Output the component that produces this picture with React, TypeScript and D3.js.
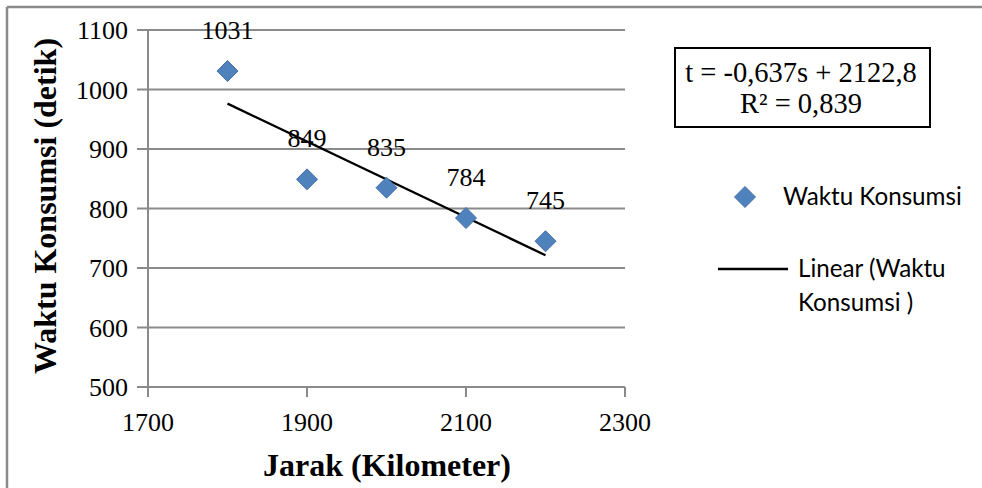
import React from "react";
import * as d3 from "d3";

const distances = [1800, 1900, 2000, 2100, 2200];
const times = [1031, 849, 835, 784, 745];
const xTicks = [1700, 1900, 2100, 2300];
const yTicks = [500, 600, 700, 800, 900, 1000, 1100];
const trendSlope = -0.637;
const trendIntercept = 2122.8;
const equationLines = ["t = -0,637s + 2122,8", "R² = 0,839"];
const seriesName = "Waktu Konsumsi";
const trendLegendLines = ["Linear (Waktu", "Konsumsi )"];
const xTitle = "Jarak (Kilometer)";
const yTitle = "Waktu Konsumsi (detik)";

const W = 982;
const H = 488;
const SERIF = "'Liberation Serif', 'Times New Roman', serif";
const SANS = "Lato, 'Noto Sans', sans-serif";
const GRID = "#8a8a8a";
const BLUE = "#4F81BD";

export default function App() {
  const x = d3.scaleLinear().domain([1700, 2300]).range([148, 625]);
  const y = d3.scaleLinear().domain([500, 1100]).range([387, 30]);
  const diamondPath = (cx: number, cy: number) => {
    const r = 10.5;
    return `M${cx},${cy - r}L${cx + r},${cy}L${cx},${cy + r}L${cx - r},${cy}Z`;
  };
  const trendX = [d3.min(distances)!, d3.max(distances)!];
  const line = d3
    .line<number>()
    .x((d) => x(d))
    .y((d) => y(trendSlope * d + trendIntercept));

  return (
    <svg
      width={W}
      height={H}
      style={{ position: "absolute", left: 0, top: 0, background: "#fff" }}
    >
      {/* outer border (top and left) */}
      <line x1={7} y1={7} x2={W} y2={7} stroke={GRID} strokeWidth={2.5} />
      <line x1={7} y1={7} x2={7} y2={H} stroke={GRID} strokeWidth={2.5} />

      {/* horizontal gridlines with tick extensions */}
      {yTicks.map((t) => (
        <g key={"y" + t}>
          <line
            x1={x(1700) - 11}
            x2={x(2300)}
            y1={y(t)}
            y2={y(t)}
            stroke={GRID}
            strokeWidth={2}
          />
          <text
            x={x(1700) - 20}
            y={y(t)}
            dy="0.35em"
            textAnchor="end"
            fontFamily={SERIF}
            fontSize={26}
            fill="#000"
          >
            {t}
          </text>
        </g>
      ))}

      {/* y axis line */}
      <line x1={x(1700)} x2={x(1700)} y1={y(1100)} y2={y(500) + 10} stroke={GRID} strokeWidth={2} />

      {/* x ticks */}
      {xTicks.map((t) => (
        <g key={"x" + t}>
          <line x1={x(t)} x2={x(t)} y1={y(500)} y2={y(500) + 10} stroke={GRID} strokeWidth={2} />
          <text
            x={x(t)}
            y={y(500) + 35}
            dy="0.35em"
            textAnchor="middle"
            fontFamily={SERIF}
            fontSize={26}
            fill="#000"
          >
            {t}
          </text>
        </g>
      ))}

      {/* trend line */}
      <path d={line(trendX) || ""} fill="none" stroke="#000" strokeWidth={2.3} />

      {/* points */}
      {distances.map((d, i) => (
        <g key={"p" + d}>
          <path
            d={diamondPath(x(d), y(times[i]))}
            fill={BLUE}
            stroke="#466fa6"
            strokeWidth={1}
          />
          <text
            x={x(d)}
            y={y(times[i]) - 32}
            textAnchor="middle"
            fontFamily={SERIF}
            fontSize={26}
            fill="#000"
          >
            {times[i]}
          </text>
        </g>
      ))}

      {/* axis titles */}
      <text
        x={387}
        y={476}
        textAnchor="middle"
        fontFamily={SERIF}
        fontWeight="bold"
        fontSize={32}
        fill="#000"
      >
        {xTitle}
      </text>
      <text
        transform="translate(56,206) rotate(-90)"
        textAnchor="middle"
        fontFamily={SERIF}
        fontWeight="bold"
        fontSize={32}
        fill="#000"
      >
        {yTitle}
      </text>

      {/* equation box */}
      <rect x={675} y={48} width={255} height={79} fill="#fff" stroke="#000" strokeWidth={2} />
      {equationLines.map((l, i) => (
        <text
          key={l}
          x={801}
          y={82 + i * 31}
          textAnchor="middle"
          fontFamily={SERIF}
          fontSize={28.5}
          fill="#000"
        >
          {l}
        </text>
      ))}

      {/* legend */}
      <path d={diamondPath(745, 197)} fill={BLUE} stroke="#466fa6" strokeWidth={1} />
      <text x={783} y={205} fontFamily={SANS} fontSize={24.2} fill="#000">
        {seriesName}
      </text>
      <line x1={718} x2={788} y1={269} y2={269} stroke="#000" strokeWidth={2.3} />
      {trendLegendLines.map((l, i) => (
        <text key={l} x={798} y={277 + i * 34} fontFamily={SANS} fontSize={24.2} fill="#000">
          {l}
        </text>
      ))}
    </svg>
  );
}
